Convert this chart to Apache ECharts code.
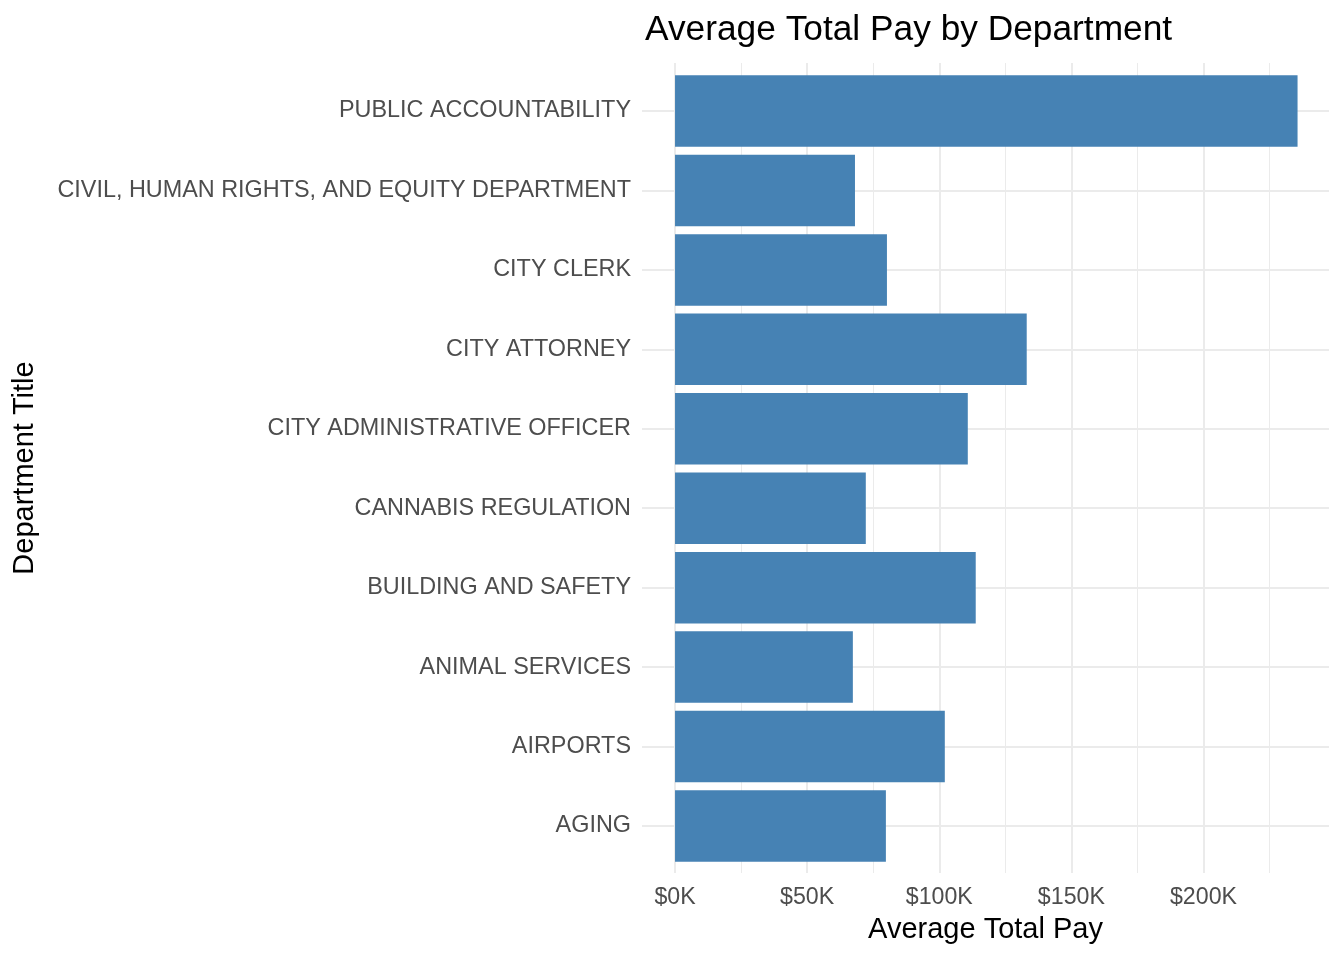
<!DOCTYPE html>
<html>
<head>
<meta charset="utf-8">
<script src="https://cdn.jsdelivr.net/npm/echarts@6/dist/echarts.min.js"></script>
<style>
html,body{margin:0;padding:0;background:#fff;}
#chart{width:1344px;height:960px;}
</style>
</head>
<body>
<div id="chart"></div>
<script>
// Categories listed bottom to top (as they appear on the y axis)
const categories = [
  'AGING',
  'AIRPORTS',
  'ANIMAL SERVICES',
  'BUILDING AND SAFETY',
  'CANNABIS REGULATION',
  'CITY ADMINISTRATIVE OFFICER',
  'CITY ATTORNEY',
  'CITY CLERK',
  'CIVIL, HUMAN RIGHTS, AND EQUITY DEPARTMENT',
  'PUBLIC ACCOUNTABILITY'
];
// Average total pay in dollars
const avgPay = [79800, 102100, 67300, 113800, 72200, 110800, 133100, 80200, 68100, 235600];
// Labelled x ticks
const xTickValues = [0, 50000, 100000, 150000, 200000];

const FONT = "'Liberation Sans', Arial, Helvetica, sans-serif";
const X_MIN = -12500, X_MAX = 247500, X_STEP = 12500;
const GRID_COLOR = '#EBEBEB';
const NONE = 'rgba(0,0,0,0)';

const chart = echarts.init(document.getElementById('chart'), null, {renderer: 'canvas'});

const option = {
  backgroundColor: '#ffffff',
  animation: false,
  grid: [
    // bars grid (band layout)
    {left: 642, right: 15, top: 71.3, bottom: 94.3, containLabel: false},
    // panel grid (gridlines + x labels)
    {left: 642, right: 15, top: 63, bottom: 87, containLabel: false}
  ],
  xAxis: [
    {
      gridIndex: 0, type: 'value', min: X_MIN, max: X_MAX, interval: X_STEP, show: false
    },
    {
      gridIndex: 1, type: 'value', min: X_MIN, max: X_MAX, interval: X_STEP,
      axisLine: {show: false}, axisTick: {show: false},
      axisLabel: {
        show: true, margin: 13, fontFamily: FONT, fontSize: 23.2, color: '#4D4D4D',
        showMinLabel: true, showMaxLabel: true,
        formatter: function (v) {
          return xTickValues.indexOf(Math.round(v)) >= 0 ? '$' + Math.round(v / 1000) + 'K' : '';
        }
      },
      splitLine: {
        show: true, showMaxLine: false,
        lineStyle: {width: 2, color: [NONE, GRID_COLOR, NONE, NONE]}
      }
    },
    {
      gridIndex: 1, type: 'value', min: X_MIN, max: X_MAX, interval: X_STEP,
      axisLine: {show: false}, axisTick: {show: false}, axisLabel: {show: false},
      splitLine: {
        show: true, showMaxLine: false,
        lineStyle: {width: 1, color: [NONE, NONE, NONE, GRID_COLOR]}
      }
    }
  ],
  yAxis: [
    {
      gridIndex: 0, type: 'category', data: categories,
      axisLine: {show: false}, axisTick: {show: false}, splitLine: {show: false},
      axisLabel: {margin: 11, fontFamily: FONT, fontSize: 23.4, color: '#4D4D4D', padding: [8, 0, 0, 0]}
    },
    {
      gridIndex: 0, type: 'value', min: -0.5, max: categories.length - 0.5, interval: 0.5,
      axisLine: {show: false}, axisTick: {show: false}, axisLabel: {show: false},
      splitLine: {show: true, lineStyle: {width: 2, color: [NONE, GRID_COLOR]}}
    },
    {
      gridIndex: 1, type: 'value', show: false
    }
  ],
  series: [
    {
      type: 'bar',
      xAxisIndex: 0, yAxisIndex: 0,
      data: avgPay,
      barWidth: '90%',
      itemStyle: {color: '#4682B4'},
      z: 5
    }
  ],
  graphic: [
    {
      type: 'text', x: 645, y: 30.5, z: 10,
      style: {text: 'Average Total Pay by Department', fontFamily: FONT, fontSize: 35.3, fill: '#000', align: 'left', verticalAlign: 'middle'}
    },
    {
      type: 'text', x: 985.5, y: 929.5, z: 10,
      style: {text: 'Average Total Pay', fontFamily: FONT, fontSize: 29, fill: '#000', align: 'center', verticalAlign: 'middle'}
    },
    {
      type: 'text', x: 25, y: 468, rotation: Math.PI / 2, z: 10,
      style: {text: 'Department Title', fontFamily: FONT, fontSize: 29, fill: '#000', align: 'center', verticalAlign: 'middle'}
    }
  ]
};
chart.setOption(option);
</script>
</body>
</html>
